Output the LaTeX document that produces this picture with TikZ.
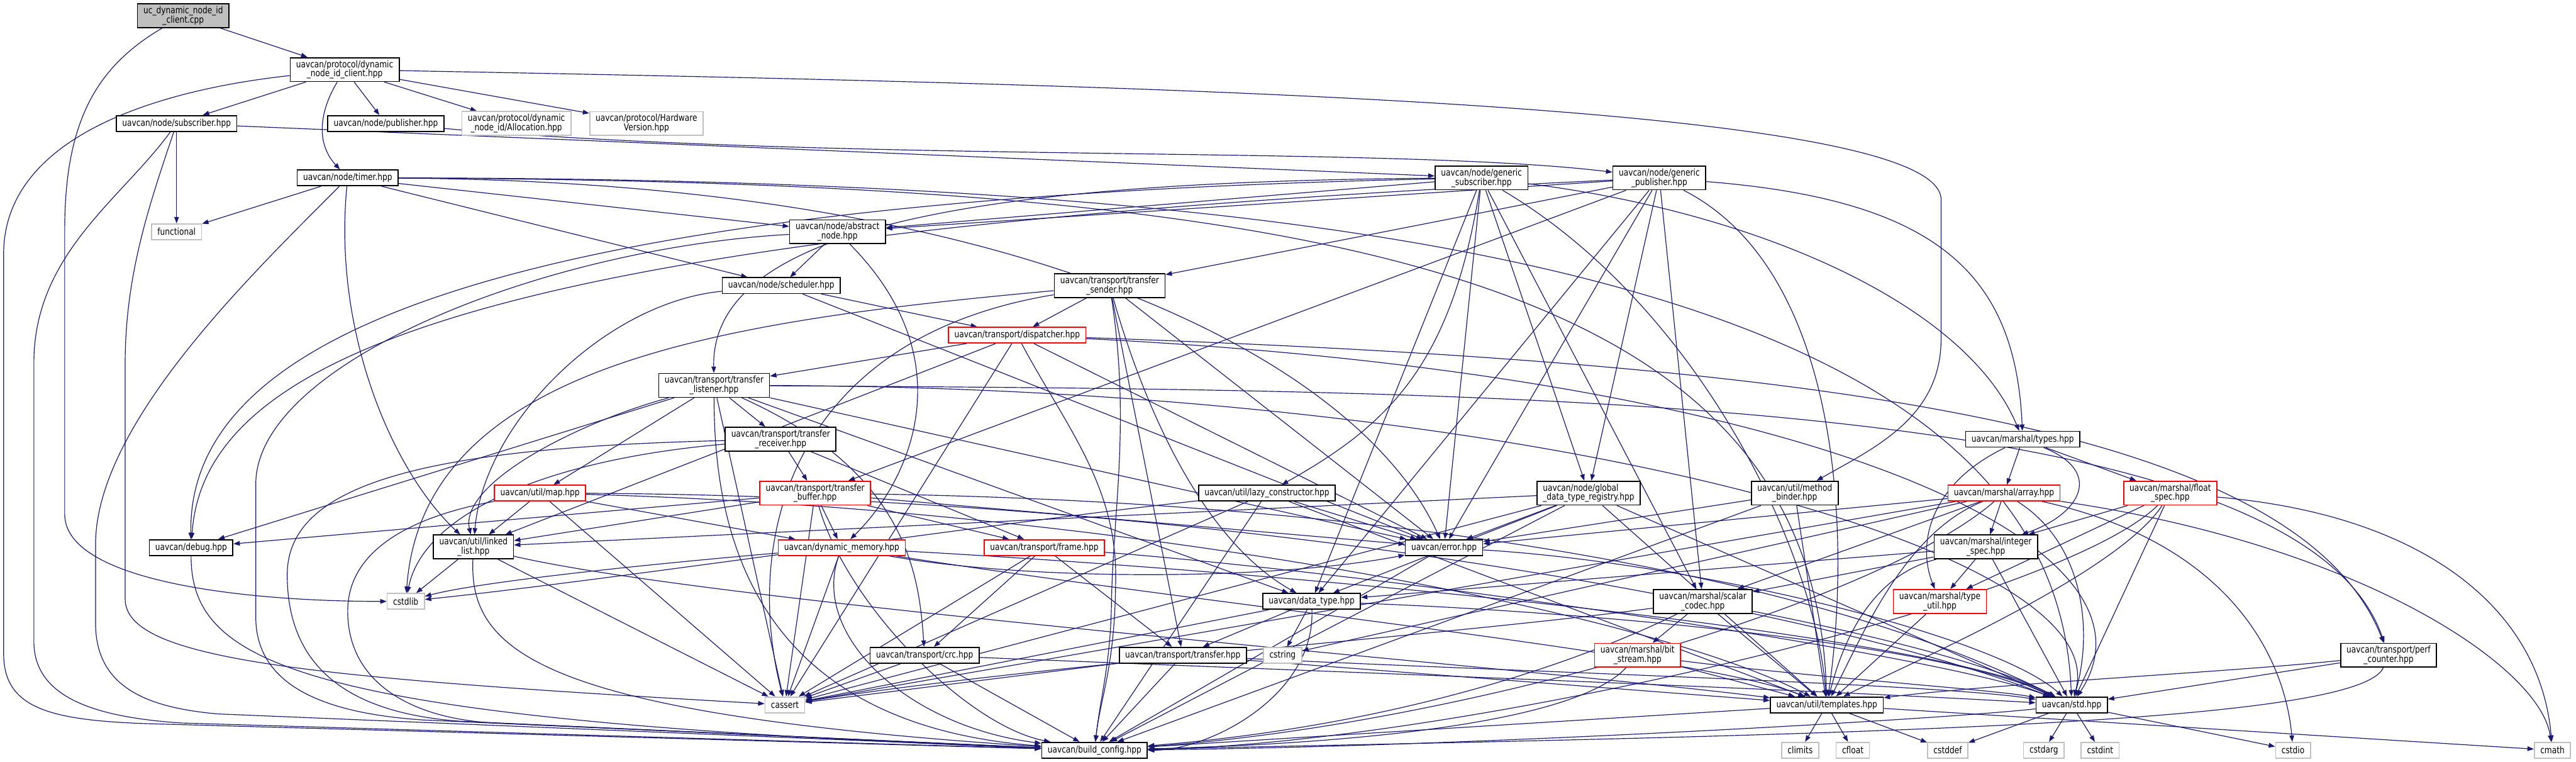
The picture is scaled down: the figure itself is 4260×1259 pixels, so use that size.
\documentclass[tikz,border=0pt]{standalone}
\usepackage{fontspec}
\setmainfont{DejaVu Sans}[FakeStretch=0.82]
\usepackage{tikz}
\usetikzlibrary{arrows.meta}
\definecolor{edgeblue}{RGB}{25,25,112}
\definecolor{sysgrey}{RGB}{191,191,191}
\definecolor{srcgrey}{RGB}{191,191,191}
\pgfdeclarelayer{edges}
\pgfsetlayers{edges,main}
\newcommand{\incfont}{\fontsize{4.4}{4.4}\selectfont}

\begin{document}
\begin{tikzpicture}[x=0.01cm,y=-0.01cm,
  hdr/.style={draw=black,fill=white,line width=0.5pt,inner xsep=2.8pt,inner ysep=1.2pt,
    minimum height=0.26cm,align=center,font=\incfont},
  redhdr/.style={hdr,draw=red},
  syshdr/.style={hdr,draw=sysgrey},
  srcfile/.style={hdr,fill=srcgrey},
  dep/.style={draw=edgeblue,line width=0.35pt,-{Triangle[length=3pt,width=2.2pt]}}]
\useasboundingbox (0,0) rectangle (4260,1259);
% headers, rank by rank
\node[srcfile] (root) at (303,26) {uc\_dynamic\_node\_id\\\_client.cpp};
\node[hdr] (dnic) at (570,115) {uavcan/protocol/dynamic\\\_node\_id\_client.hpp};
\node[hdr] (sub) at (292,204) {uavcan/node/subscriber.hpp};
\node[hdr] (pub) at (638,204) {uavcan/node/publisher.hpp};
\node[syshdr] (alloc) at (854,204) {uavcan/protocol/dynamic\\\_node\_id/Allocation.hpp};
\node[syshdr] (hwver) at (1069,204) {uavcan/protocol/Hardware\\Version.hpp};
\node[hdr] (timer) at (575,294) {uavcan/node/timer.hpp};
\node[hdr] (gsub) at (2450,294) {uavcan/node/generic\\\_subscriber.hpp};
\node[hdr] (gpub) at (2744,294) {uavcan/node/generic\\\_publisher.hpp};
\node[syshdr] (func) at (292,383) {functional};
\node[hdr] (absnode) at (1385,383) {uavcan/node/abstract\\\_node.hpp};
\node[hdr] (sched) at (1292,472) {uavcan/node/scheduler.hpp};
\node[hdr] (tsender) at (1835,472) {uavcan/transport/transfer\\\_sender.hpp};
\node[redhdr] (disp) at (1682,554) {uavcan/transport/dispatcher.hpp};
\node[hdr] (tlisten) at (1181,637) {uavcan/transport/transfer\\\_listener.hpp};
\node[hdr] (trecv) at (1291,726) {uavcan/transport/transfer\\\_receiver.hpp};
\node[hdr] (mtypes) at (3345,726) {uavcan/marshal/types.hpp};
\node[redhdr] (map) at (893,815) {uavcan/util/map.hpp};
\node[redhdr] (tbuf) at (1348,815) {uavcan/transport/transfer\\\_buffer.hpp};
\node[hdr] (lazy) at (2095,815) {uavcan/util/lazy\_constructor.hpp};
\node[hdr,align=left] (gdtr) at (2627,815) {uavcan/node/global\\\_data\_type\_registry.hpp};
\node[hdr] (mbinder) at (2968,815) {uavcan/util/method\\\_binder.hpp};
\node[redhdr] (marray) at (3314,815) {uavcan/marshal/array.hpp};
\node[redhdr] (fspec) at (3589,815) {uavcan/marshal/float\\\_spec.hpp};
\node[hdr] (debug) at (316,905) {uavcan/debug.hpp};
\node[hdr] (llist) at (783,904) {uavcan/util/linked\\\_list.hpp};
\node[redhdr] (dynmem) at (1392,905) {uavcan/dynamic\_memory.hpp};
\node[redhdr] (frame) at (1727,905) {uavcan/transport/frame.hpp};
\node[hdr] (err) at (2388,905) {uavcan/error.hpp};
\node[hdr] (ispec) at (3284,904) {uavcan/marshal/integer\\\_spec.hpp};
\node[syshdr] (cstdlib) at (671,994) {cstdlib};
\node[hdr] (dtype) at (2169,994) {uavcan/data\_type.hpp};
\node[hdr] (scodec) at (2816,994) {uavcan/marshal/scalar\\\_codec.hpp};
\node[redhdr] (tutil) at (3208,994) {uavcan/marshal/type\\\_util.hpp};
\node[hdr] (crc) at (1529,1083) {uavcan/transport/crc.hpp};
\node[hdr] (xfer) at (1956,1083) {uavcan/transport/transfer.hpp};
\node[syshdr] (cstring) at (2121,1083) {cstring};
\node[redhdr] (bstream) at (2708,1083) {uavcan/marshal/bit\\\_stream.hpp};
\node[hdr] (perf) at (3950,1083) {uavcan/transport/perf\\\_counter.hpp};
\node[syshdr] (cassert) at (1298,1165) {cassert};
\node[hdr] (tmpl) at (3021,1165) {uavcan/util/templates.hpp};
\node[hdr] (std) at (3426,1165) {uavcan/std.hpp};
\node[hdr] (bcfg) at (1810,1240) {uavcan/build\_config.hpp};
\node[syshdr] (climits) at (2977,1240) {climits};
\node[syshdr] (cfloat) at (3064,1240) {cfloat};
\node[syshdr] (cstddef) at (3221,1240) {cstddef};
\node[syshdr] (cstdarg) at (3380,1240) {cstdarg};
\node[syshdr] (cstdint) at (3473,1240) {cstdint};
\node[syshdr] (cstdio) at (3792,1240) {cstdio};
\node[syshdr] (cmath) at (4221,1240) {cmath};

\begin{pgfonlayer}{edges}
\fill[white] (0,0) rectangle (4260,1259);
% source file
\draw[dep] (root) -- (dnic);
\draw[dep] (root) .. controls (160,110) and (107,200) .. (107,380) -- (107,850) .. controls (107,960) and (400,994) .. (cstdlib);
% dynamic_node_id_client.hpp
\foreach \t in {sub,pub,alloc,hwver} \draw[dep] (dnic) -- (\t);
\draw[dep] (dnic) .. controls (525,190) and (525,240) .. (timer);
\draw[dep] (dnic) .. controls (250,150) and (6,230) .. (6,420) -- (6,1080) .. controls (6,1170) and (80,1190) .. (240,1196) -- (bcfg);
\draw[dep] (dnic) .. controls (1900,140) and (3210,170) .. (3210,330) -- (3210,560) .. controls (3210,690) and (3100,740) .. (mbinder);
% subscriber / publisher
\draw[dep] (sub) -- (gsub);
\draw[dep] (sub) -- (func);
\draw[dep] (sub) .. controls (200,330) and (56,420) .. (56,600) -- (56,1060) .. controls (56,1150) and (150,1185) .. (300,1195) -- (bcfg);
\draw[dep] (sub) .. controls (250,330) and (207,450) .. (207,600) -- (207,990) .. controls (207,1090) and (500,1120) .. (cassert);
\draw[dep] (pub) .. controls (1400,270) and (2300,240) .. (gpub);
% timer.hpp
\foreach \t in {func,absnode,sched} \draw[dep] (timer) -- (\t);
\draw[dep] (timer) .. controls (550,550) and (650,780) .. (llist);
\draw[dep] (timer) .. controls (420,450) and (158,700) .. (158,900) -- (158,1030) .. controls (158,1140) and (250,1170) .. (360,1180) -- (bcfg);
\draw[dep] (timer) .. controls (1700,300) and (2250,600) .. (err);
\draw[dep] (timer) .. controls (2200,300) and (3000,450) .. (tmpl);
\draw[dep] (timer) .. controls (2400,295) and (3400,500) .. (std);
% generic_subscriber.hpp
\foreach \t in {absnode,err,dtype,gdtr,scodec} \draw[dep] (gsub) -- (\t);
\draw[dep] (gsub) .. controls (1600,300) and (1175,380) .. (tlisten);
\draw[dep] (gsub) .. controls (800,330) and (310,560) .. (debug);
\draw[dep] (gsub) .. controls (2400,600) and (2300,700) .. (lazy);
\draw[dep] (gsub) .. controls (2800,500) and (3000,900) .. (tmpl);
\draw[dep] (gsub) .. controls (2900,350) and (3250,500) .. (mtypes);
% generic_publisher.hpp
\foreach \t in {absnode,tsender,tbuf,err,dtype,gdtr,scodec} \draw[dep] (gpub) -- (\t);
\draw[dep] (gpub) .. controls (900,380) and (340,560) .. (debug);
\draw[dep] (gpub) .. controls (3200,330) and (3333,450) .. (mtypes);
\draw[dep] (gpub) .. controls (3050,450) and (3060,900) .. (tmpl);
% abstract_node.hpp, scheduler.hpp
\draw[dep] (absnode) -- (sched);
\draw[dep] (absnode) .. controls (1600,600) and (1500,800) .. (dynmem);
\draw[dep] (absnode) .. controls (900,410) and (423,600) .. (423,800) -- (423,1020) .. controls (423,1140) and (550,1180) .. (700,1190) -- (bcfg);
\foreach \t in {disp,err} \draw[dep] (sched) -- (\t);
\draw[dep] (sched) .. controls (1000,500) and (800,700) .. (llist);
% transfer_sender.hpp
\foreach \t in {disp,xfer,err} \draw[dep] (tsender) -- (\t);
\draw[dep] (tsender) .. controls (1900,700) and (2000,900) .. (dtype);
\draw[dep] (tsender) .. controls (1870,700) and (1840,850) .. (1838,1000) .. controls (1836,1100) and (1820,1150) .. (bcfg);
\draw[dep] (tsender) .. controls (1200,530) and (700,600) .. (cstdlib);
\draw[dep] (tsender) .. controls (1300,560) and (1230,900) .. (cassert);
% dispatcher.hpp
\foreach \t in {tlisten,err,cassert,llist} \draw[dep] (disp) -- (\t);
\draw[dep] (disp) .. controls (1760,700) and (1845,800) .. (1845,950) .. controls (1845,1100) and (1820,1150) .. (bcfg);
\draw[dep] (disp) .. controls (3000,600) and (3800,700) .. (perf);
\draw[dep] (disp) .. controls (3000,620) and (3600,900) .. (std);
% transfer_listener.hpp
\foreach \t in {trecv,map,err,dtype,debug,cassert} \draw[dep] (tlisten) -- (\t);
\draw[dep] (tlisten) .. controls (950,700) and (760,800) .. (llist);
\draw[dep] (tlisten) .. controls (1500,780) and (1520,950) .. (crc);
\draw[dep] (tlisten) .. controls (1180,950) and (1300,1200) .. (bcfg);
\draw[dep] (tlisten) .. controls (2500,645) and (3800,650) .. (perf);
\draw[dep] (tlisten) .. controls (2500,640) and (3500,900) .. (std);
% transfer_receiver.hpp, transfer_buffer.hpp
\foreach \t in {tbuf,frame} \draw[dep] (trecv) -- (\t);
\draw[dep] (trecv) .. controls (700,740) and (475,800) .. (475,950) .. controls (475,1120) and (600,1180) .. (760,1192) -- (bcfg);
\draw[dep] (trecv) .. controls (900,760) and (700,850) .. (cstdlib);
\foreach \t in {llist,debug,dynmem,frame,err,cassert} \draw[dep] (tbuf) -- (\t);
\draw[dep] (tbuf) .. controls (1400,1000) and (1600,1200) .. (bcfg);
\draw[dep] (tbuf) .. controls (2300,830) and (3000,950) .. (std);
% map.hpp, linked_list.hpp, debug.hpp
\foreach \t in {llist,cassert,dynmem} \draw[dep] (map) -- (\t);
\draw[dep] (map) .. controls (700,850) and (575,900) .. (575,1010) .. controls (575,1140) and (700,1190) .. (820,1195) -- (bcfg);
\draw[dep] (map) .. controls (1800,840) and (2700,1000) .. (tmpl);
\draw[dep] (map) .. controls (2000,820) and (3000,1000) .. (std);
\foreach \t in {cstdlib,cassert} \draw[dep] (llist) -- (\t);
\draw[dep] (llist) .. controls (775,1080) and (900,1180) .. (bcfg);
\draw[dep] (llist) .. controls (1200,1000) and (2500,1100) .. (tmpl);
\draw[dep] (debug) .. controls (316,1100) and (500,1190) .. (bcfg);
% dynamic_memory.hpp, frame.hpp
\draw[dep] (dynmem) -- (cassert);
\draw[dep] (dynmem) .. controls (1700,960) and (2100,960) .. (err);
\draw[dep] (dynmem) .. controls (1100,930) and (800,960) .. (cstdlib);
\draw[dep] (dynmem) .. controls (1340,1050) and (1500,1200) .. (bcfg);
\draw[dep] (dynmem) .. controls (2000,1000) and (2800,1080) .. (tmpl);
\draw[dep] (dynmem) .. controls (2200,950) and (3200,1050) .. (std);
\foreach \t in {crc,xfer,cassert} \draw[dep] (frame) -- (\t);
\draw[dep] (frame) .. controls (2300,950) and (3200,1080) .. (std);
% crc.hpp, transfer.hpp
\foreach \t in {cassert,bcfg} \draw[dep] (crc) -- (\t);
\draw[dep] (crc) .. controls (2200,1110) and (3000,1140) .. (std);
\foreach \t in {cassert,bcfg,tmpl} \draw[dep] (xfer) -- (\t);
\draw[dep] (xfer) .. controls (2500,1110) and (3200,1130) .. (std);
% error.hpp, data_type.hpp
\draw[dep] (err) -- (bcfg);
\draw[dep] (err) .. controls (2800,930) and (3300,1050) .. (std);
\foreach \t in {xfer,cstring,cassert} \draw[dep] (dtype) -- (\t);
\draw[dep] (dtype) .. controls (2175,1150) and (2000,1240) .. (bcfg);
\draw[dep] (dtype) .. controls (2600,1010) and (3200,1060) .. (std);
% registry, lazy constructor, method binder
\foreach \t in {err,dtype,llist,cassert,bcfg,tmpl,std} \draw[dep] (gdtr) -- (\t);
\foreach \t in {cassert,err,bcfg,tmpl} \draw[dep] (lazy) -- (\t);
\draw[dep] (lazy) .. controls (1600,870) and (1000,960) .. (cstdlib);
\foreach \t in {err,bcfg,tmpl} \draw[dep] (mbinder) -- (\t);
% marshal
\foreach \t in {marray,fspec} \draw[dep] (mtypes) -- (\t);
\draw[dep] (mtypes) .. controls (3480,780) and (3440,850) .. (ispec);
\draw[dep] (mtypes) .. controls (3190,800) and (3170,900) .. (tutil);
\foreach \t in {err,ispec,scodec,cstring,cassert} \draw[dep] (marray) -- (\t);
\draw[dep] (marray) .. controls (3450,900) and (3460,1050) .. (std);
\draw[dep] (marray) .. controls (3150,880) and (3080,1050) .. (tmpl);
\draw[dep] (marray) .. controls (3100,1000) and (2400,1200) .. (bcfg);
\draw[dep] (marray) .. controls (3900,900) and (4200,1100) .. (cmath);
\draw[dep] (marray) .. controls (3700,900) and (3780,1100) .. (cstdio);
\foreach \t in {tutil,ispec,std} \draw[dep] (fspec) -- (\t);
\draw[dep] (fspec) .. controls (4000,850) and (4200,1000) .. (cmath);
\draw[dep] (fspec) .. controls (3500,950) and (3150,1100) .. (tmpl);
\draw[dep] (fspec) .. controls (3400,1000) and (2400,1230) .. (bcfg);
\foreach \t in {tutil,scodec,std,dtype} \draw[dep] (ispec) -- (\t);
\draw[dep] (ispec) .. controls (3100,950) and (3050,1050) .. (tmpl);
\draw[dep] (tutil) -- (tmpl);
\foreach \t in {bstream,tmpl} \draw[dep] (scodec) -- (\t);
\draw[dep] (scodec) .. controls (3100,1050) and (3300,1100) .. (std);
\draw[dep] (scodec) .. controls (2600,1100) and (2300,1200) .. (bcfg);
\draw[dep] (scodec) .. controls (2400,1050) and (1700,1100) .. (cassert);
\draw[dep] (bstream) -- (tmpl);
\draw[dep] (bstream) .. controls (3000,1120) and (3300,1140) .. (std);
\draw[dep] (bstream) .. controls (2600,1200) and (2200,1230) .. (bcfg);
% perf counter, templates, std
\draw[dep] (perf) -- (std);
\draw[dep] (perf) .. controls (3700,1110) and (3300,1130) .. (tmpl);
\draw[dep] (perf) .. controls (3900,1200) and (3000,1215) .. (bcfg);
\foreach \t in {climits,cfloat,cstddef,bcfg,cmath} \draw[dep] (tmpl) -- (\t);
\foreach \t in {cstddef,cstdarg,cstdint,cstdio} \draw[dep] (std) -- (\t);
\draw[dep] (std) .. controls (3200,1190) and (2400,1235) .. (bcfg);
\end{pgfonlayer}
\end{tikzpicture}
\end{document}
